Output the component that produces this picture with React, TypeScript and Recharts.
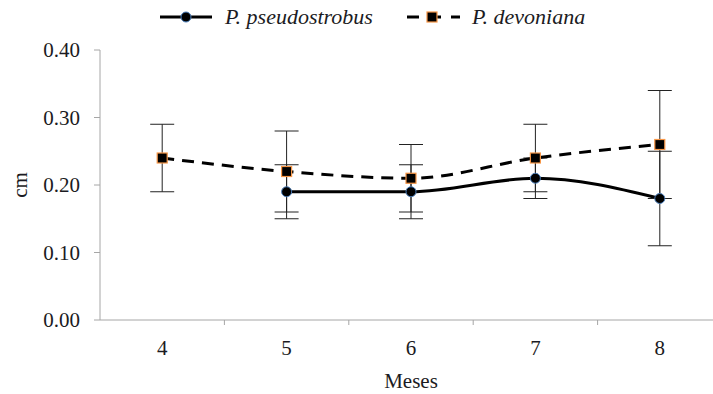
import * as React from "react";
import { LineChart, Line, XAxis, YAxis, ErrorBar, Legend } from "recharts";

const months = ["4", "5", "6", "7", "8"];
const pseudostrobus = [null, 0.19, 0.19, 0.21, 0.18];
const pseudostrobusErr = [null, 0.04, 0.04, 0.03, 0.07];
const devoniana = [0.24, 0.22, 0.21, 0.24, 0.26];
const devonianaErr = [0.05, 0.06, 0.05, 0.05, 0.08];
const yTicks = [0, 0.1, 0.2, 0.3, 0.4];

const data = months.map((m, i) => ({
    mes: m,
    pseudo: pseudostrobus[i],
    pseudoErr: pseudostrobusErr[i],
    devo: devoniana[i],
    devoErr: devonianaErr[i],
}));

const W = 722;
const H = 394;
const LEFT = 100;
const band = (W - LEFT) / months.length;
const font = "'Liberation Serif', 'DejaVu Serif', serif";
const ink = "#1b1b22";
const axisGray = "#a6a6a6";

function MonthTick(props: any) {
    const { x, y, payload, index } = props;
    return (
        <g>
            {index < months.length - 1 && (
                <line x1={x + band / 2} x2={x + band / 2} y1={y} y2={y + 5} stroke={axisGray} />
            )}
            <text x={x} y={y + 28} textAnchor="middle" dominantBaseline="central" fontSize={21} fill={ink} fontFamily={font}>
                {payload.value}
            </text>
        </g>
    );
}

function SquareDot(props: any) {
    const { cx, cy, index } = props;
    if (cx == null || cy == null) return <g key={index} />;
    return <rect key={index} x={cx - 5} y={cy - 5} width={10} height={10} fill="#000" stroke="#f79646" strokeWidth={1.2} />;
}

function LegendBox() {
    return (
        <div style={{ display: "flex", alignItems: "center", height: 34, paddingLeft: 160, fontFamily: font, fontStyle: "italic", fontSize: 22, color: ink }}>
            <svg width={52} height={12}>
                <line x1={0} x2={52} y1={6} y2={6} stroke="#000" strokeWidth={3} />
                <circle cx={26} cy={6} r={5} fill="#000" stroke="#4a7ebb" />
            </svg>
            <span style={{ marginLeft: 13, marginRight: 32 }}>P. pseudostrobus</span>
            <svg width={55} height={12}>
                <line x1={0} x2={55} y1={6} y2={6} stroke="#000" strokeWidth={3} strokeDasharray="12 10" strokeDashoffset={-2} />
                <rect x={22} y={1} width={10} height={10} fill="#000" stroke="#f79646" strokeWidth={1.2} />
            </svg>
            <span style={{ marginLeft: 12 }}>P. devoniana</span>
        </div>
    );
}

export default function App() {
    return (
        <div style={{ position: "absolute", left: 0, top: 0, width: 713, height: H, overflow: "hidden", background: "#fff" }}>
            <LineChart width={W} height={H} data={data} margin={{ top: 16, right: 0, bottom: 14, left: 0 }}>
                <Legend verticalAlign="top" content={() => <LegendBox />} wrapperStyle={{ top: 0, left: 0, width: W }} />
                <XAxis
                    dataKey="mes"
                    height={60}
                    padding={{ left: band / 2, right: band / 2 }}
                    tickLine={false}
                    tickSize={0}
                    tickMargin={0}
                    stroke={axisGray}
                    tick={<MonthTick />}
                    label={({ viewBox }: any) => (
                        <text x={viewBox.x + viewBox.width / 2} y={viewBox.y + 61} textAnchor="middle" dominantBaseline="central" fontSize={21} fill={ink} fontFamily={font}>
                            Meses
                        </text>
                    )}
                />
                <YAxis
                    width={LEFT}
                    domain={[0, 0.4]}
                    ticks={yTicks}
                    tickFormatter={(v: number) => v.toFixed(2)}
                    tickSize={6}
                    tickMargin={14}
                    stroke={axisGray}
                    tick={{ fill: ink, fontSize: 21, fontFamily: font }}
                    label={({ viewBox }: any) => (
                        <text x={20} y={viewBox.y + viewBox.height / 2} textAnchor="middle" dominantBaseline="central" fontSize={21} fill={ink} fontFamily={font} transform={`rotate(-90 20 ${viewBox.y + viewBox.height / 2})`}>
                            cm
                        </text>
                    )}
                />
                <Line type="monotone" dataKey="pseudo" stroke="#000" strokeWidth={3} isAnimationActive={false} dot={{ r: 5, fill: "#000", stroke: "#4a7ebb", strokeWidth: 1 }}>
                    <ErrorBar dataKey="pseudoErr" width={12} stroke="#222" strokeWidth={1} direction="y" />
                </Line>
                <Line type="monotone" dataKey="devo" stroke="#000" strokeWidth={3} strokeDasharray="12 8" isAnimationActive={false} dot={<SquareDot />}>
                    <ErrorBar dataKey="devoErr" width={12} stroke="#222" strokeWidth={1} direction="y" />
                </Line>
            </LineChart>
        </div>
    );
}
